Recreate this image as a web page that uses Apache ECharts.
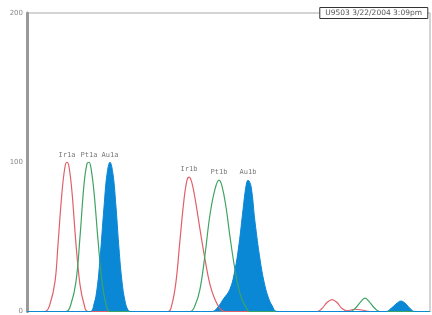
<!DOCTYPE html>
<html>
<head>
<meta charset="utf-8">
<script src="https://cdn.jsdelivr.net/npm/echarts@6/dist/echarts.min.js"></script>
<style>
  html, body { margin: 0; padding: 0; background: #fff; }
  #chart { width: 432px; height: 315px; }
</style>
</head>
<body>
<div id="chart"></div>
<script>
// x = retention position, y = signal
const irTrace = [
  [0, 0], [18, 0], [23, 5], [28, 20], [31, 45], [35, 80], [38, 97], [40, 100], [42, 97], [45, 80],
  [49, 45], [53, 18], [57, 5], [61, 0],
  [141, 0], [145, 5], [149, 20], [153, 48], [157, 75], [160, 88], [162, 90], [165, 86], [169, 72],
  [173, 55], [178, 35], [183, 18], [188, 8], [193, 2], [198, 0],
  [290, 0], [295, 2], [300, 6], [305, 8], [310, 6], [315, 2], [320, 0.5], [328, 1.5], [335, 1], [343, 0], [403, 0]
]
const ptTrace = [
  [0, 0], [39, 0], [44, 5], [49, 20], [53, 50], [57, 85], [60, 99], [62, 100], [64, 96], [67, 80],
  [71, 48], [75, 20], [79, 5], [83, 0],
  [163, 0], [168, 4], [173, 15], [178, 38], [183, 65], [188, 82], [192, 88], [195, 84], [199, 70],
  [203, 50], [208, 28], [213, 12], [218, 4], [223, 0],
  [323, 0], [328, 2], [333, 6], [338, 9], [343, 6], [348, 2], [353, 0], [403, 0]
]
const auTrace = [
  [0, 0], [63, 0], [67, 5], [70, 15], [73, 35], [77, 70], [80, 92], [83, 100], [86, 92], [89, 70],
  [92, 42], [95, 20], [98, 7], [101, 1], [104, 0],
  [185, 0], [191, 3], [196, 8], [203, 15], [208, 28], [212, 45], [216, 68], [219, 84], [221, 88],
  [224, 84], [228, 60], [233, 35], [237, 20], [241, 10], [245, 4], [250, 0],
  [359, 0], [364, 2], [369, 5], [374, 7], [379, 5], [383, 2], [388, 0], [403, 0]
]
const peakNames = ['Ir1a', 'Pt1a', 'Au1a', 'Ir1b', 'Pt1b', 'Au1b']
const peakPos = [[40, 100], [62, 100], [83, 100], [162, 90], [192, 88], [221, 88]]
const yTicks = [0, 100, 200]
const stampText = 'U9503 3/22/2004 3:09pm'

const chart = echarts.init(document.getElementById('chart'))
const option = {
  animation: false,
  backgroundColor: '#fff',
  title: {
    text: stampText,
    right: 4,
    top: 7,
    padding: [2, 6],
    borderWidth: 1,
    borderColor: '#333',
    backgroundColor: '#fff',
    textStyle: { fontSize: 7.5, color: '#555', fontWeight: 'normal', fontFamily: 'DejaVu Sans' }
  },
  grid: { left: 27, right: 2, top: 13, bottom: 3, show: true, borderColor: '#aaa', borderWidth: 1 },
  xAxis: {
    type: 'value', min: 0, max: 403,
    axisLine: { show: true, lineStyle: { color: '#999', width: 1 } },
    axisTick: { show: false }, axisLabel: { show: false }, splitLine: { show: false }
  },
  yAxis: {
    type: 'value', min: 0, max: 200, interval: 100,
    axisLine: { show: true, lineStyle: { color: '#999', width: 3 } },
    axisTick: { show: false },
    splitLine: { show: false },
    axisLabel: {
      fontSize: 7, color: '#888', margin: 4, fontFamily: 'DejaVu Sans',
      formatter: v => yTicks.includes(v) ? String(v) : ''
    }
  },
  series: [
    {
      name: 'Ir', type: 'line', data: irTrace, smooth: 0.4, showSymbol: false,
      lineStyle: { color: '#e0606a', width: 1.2 }
    },
    {
      name: 'Pt', type: 'line', data: ptTrace, smooth: 0.4, showSymbol: false,
      lineStyle: { color: '#3ea464', width: 1.2 }
    },
    {
      name: 'Au', type: 'line', data: auTrace, smooth: 0.4, showSymbol: false,
      lineStyle: { color: '#0a88d6', width: 1 },
      areaStyle: { color: '#0a88d6', opacity: 1 }
    },
    {
      name: 'labels', type: 'scatter', symbolSize: 0,
      data: peakPos.map((p, i) => ({ value: p, name: peakNames[i] })),
      label: {
        show: true, position: 'top', distance: 4, formatter: '{b}',
        fontSize: 7, color: '#555', fontFamily: 'DejaVu Sans Mono'
      }
    }
  ]
}
chart.setOption(option)
</script>
</body>
</html>
